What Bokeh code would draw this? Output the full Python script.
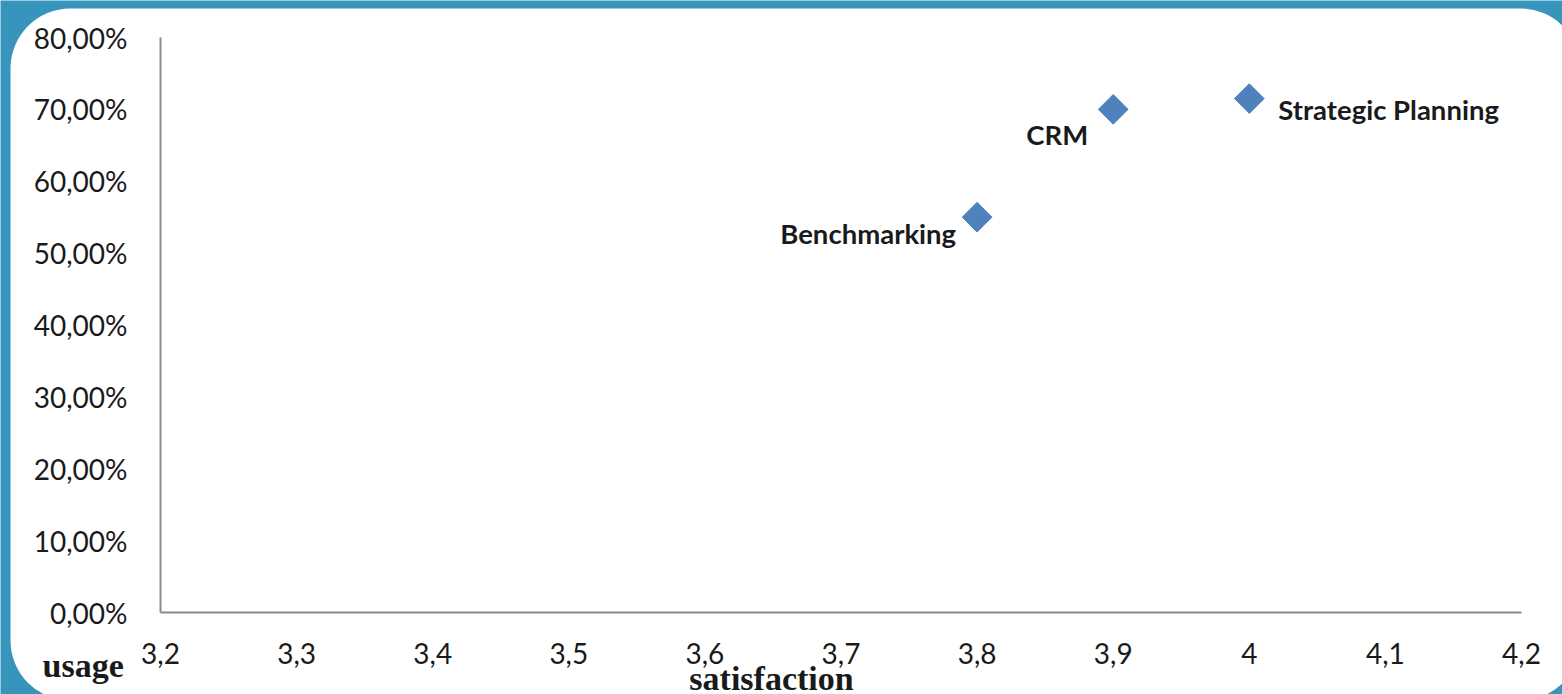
import numpy as np
from bokeh.plotting import figure
from bokeh.models import (BoxAnnotation, Label, FixedTicker, LinearAxis, Range1d)
from bokeh.embed import file_html
from bokeh.resources import INLINE

# Management tools: satisfaction score vs. share of firms using them
tools = ["Benchmarking", "CRM", "Strategic Planning"]
satisfaction = [3.8, 3.9, 4.0]
usage = [0.55, 0.70, 0.715]

x_ticks = [3.2, 3.3, 3.4, 3.5, 3.6, 3.7, 3.8, 3.9, 4.0, 4.1, 4.2]
x_tick_labels = ["3,2", "3,3", "3,4", "3,5", "3,6", "3,7", "3,8", "3,9", "4", "4,1", "4,2"]
y_ticks = [0.0, 0.1, 0.2, 0.3, 0.4, 0.5, 0.6, 0.7, 0.8]
y_tick_labels = ["0,00%", "10,00%", "20,00%", "30,00%", "40,00%",
                 "50,00%", "60,00%", "70,00%", "80,00%"]

BLUE_BG = "#3795bd"
MARKER = "#4f81bd"
INK = "#1a1a1a"

W, H = 1562, 694
# pixel placement of the axes on the page (left/right/bottom/top of the plot area)
AX_L, AX_R, AX_B, AX_T = 160, 1521, 612, 37
X_MIN, X_MAX = x_ticks[0], x_ticks[-1]
Y_MIN, Y_MAX = y_ticks[0], y_ticks[-1]
kx = (X_MAX - X_MIN) / (AX_R - AX_L)
ky = (Y_MAX - Y_MIN) / (AX_B - AX_T)


def px_x(px):
    return X_MIN + (px - AX_L) * kx


def px_y(py):
    return Y_MIN + (AX_B - py) * ky


# the plot frame spans the whole page; axes sit at fixed data locations
p = figure(width=W, height=H, output_backend="svg", toolbar_location=None,
           x_range=Range1d(px_x(0), px_x(W)), y_range=Range1d(px_y(H), px_y(0)),
           x_axis_location=None, y_axis_location=None,
           min_border=0, min_border_left=0, min_border_right=0,
           min_border_top=0, min_border_bottom=0)
p.border_fill_color = BLUE_BG
p.background_fill_color = BLUE_BG
p.outline_line_color = None
p.grid.visible = False

# rounded white card behind the chart
card = BoxAnnotation(left=px_x(10), right=px_x(1580), top=px_y(8), bottom=px_y(700),
                     fill_color="white", fill_alpha=1.0, line_color=None,
                     border_radius=60, level="underlay")
p.add_layout(card)

xaxis = LinearAxis(fixed_location=Y_MIN, bounds=(X_MIN, X_MAX),
                   ticker=FixedTicker(ticks=x_ticks),
                   major_label_overrides={t: l for t, l in zip(x_ticks, x_tick_labels)},
                   major_label_standoff=30)
yaxis = LinearAxis(fixed_location=X_MIN, bounds=(Y_MIN, Y_MAX),
                   ticker=FixedTicker(ticks=y_ticks),
                   major_label_overrides={t: l for t, l in zip(y_ticks, y_tick_labels)},
                   major_label_standoff=33)
for ax in (xaxis, yaxis):
    ax.axis_line_color = "#8a8a8a"
    ax.axis_line_width = 2
    ax.major_tick_line_color = None
    ax.minor_tick_line_color = None
    ax.major_tick_out = 0
    ax.major_tick_in = 0
    ax.minor_tick_out = 0
    ax.minor_tick_in = 0
    ax.major_label_text_font = "Lato"
    ax.major_label_text_font_size = "28px"
    ax.major_label_text_color = INK
p.add_layout(xaxis, "below")
p.add_layout(yaxis, "left")

p.scatter(satisfaction, usage, marker="square", size=21, angle=np.pi / 4,
          fill_color=MARKER, line_color=MARKER)

# point labels, each placed beside its marker (pixel offsets)
label_place = {
    "Benchmarking": (-21, -16, "right"),
    "CRM": (-25, -25, "right"),
    "Strategic Planning": (29, -11, "left"),
}
for name, sx, sy in zip(tools, satisfaction, usage):
    dx, dy, align = label_place[name]
    p.add_layout(Label(x=sx, y=sy, text=name, x_offset=dx, y_offset=dy,
                       text_align=align, text_baseline="middle",
                       text_font="Lato", text_font_style="bold",
                       text_font_size="27.5px", text_color=INK))

# axis titles
p.add_layout(Label(x=px_x(42), y=px_y(665), text="usage",
                   text_align="left", text_baseline="alphabetic",
                   text_font="Liberation Serif", text_font_style="bold",
                   text_font_size="34px", text_color=INK))
p.add_layout(Label(x=px_x(771), y=px_y(678), text="satisfaction",
                   text_align="center", text_baseline="alphabetic",
                   text_font="Liberation Serif", text_font_style="bold",
                   text_font_size="34px", text_color=INK))

open("out.html", "w").write(file_html(p, INLINE))
